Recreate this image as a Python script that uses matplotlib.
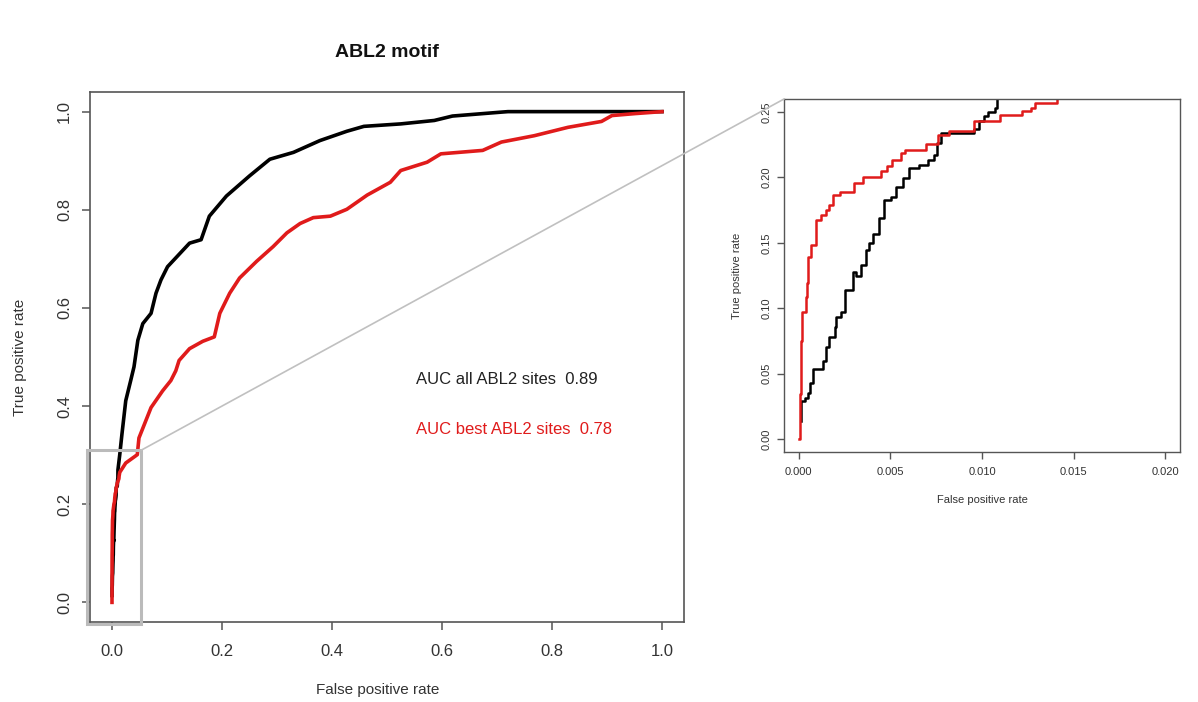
import matplotlib as mpl
mpl.use('Agg')
import matplotlib.pyplot as plt
from matplotlib.patches import Rectangle, ConnectionPatch

plt.rcParams['font.family'] = ['Liberation Sans', 'DejaVu Sans']

# ROC curve: all ABL2 sites (black)
black_fpr = [0.0001, 0.0001, 0.00033, 0.0005, 0.0006, 0.00078, 0.00132, 0.0015,
             0.00168, 0.00196, 0.00205, 0.00232, 0.0025, 0.00295, 0.00314, 0.0034,
             0.00368, 0.00385, 0.00404, 0.0044, 0.00467, 0.00504, 0.0053, 0.00567,
             0.00603, 0.00658, 0.00703, 0.00739, 0.00757, 0.00776, 0.00957, 0.00984,
             0.0101, 0.0103, 0.0107, 0.0108,
             0.014, 0.018, 0.025, 0.034, 0.040, 0.047, 0.056, 0.071, 0.080, 0.089,
             0.101, 0.116, 0.141, 0.162, 0.177, 0.208, 0.250, 0.287, 0.330, 0.378,
             0.427, 0.458, 0.525, 0.586, 0.619, 0.708, 0.72, 1.0]
black_tpr = [0.014, 0.029, 0.0315, 0.0354, 0.043, 0.0534, 0.0598, 0.070,
             0.0777, 0.0854, 0.093, 0.097, 0.1136, 0.1277, 0.125, 0.1328,
             0.1444, 0.1495, 0.157, 0.1688, 0.183, 0.1854, 0.193, 0.1995,
             0.207, 0.2098, 0.2136, 0.2175, 0.2265, 0.234, 0.2367, 0.243,
             0.247, 0.250, 0.2534, 0.27,
             0.300, 0.342, 0.411, 0.452, 0.480, 0.534, 0.568, 0.589, 0.630, 0.657,
             0.684, 0.702, 0.732, 0.739, 0.787, 0.828, 0.869, 0.903, 0.917, 0.941,
             0.960, 0.970, 0.975, 0.982, 0.991, 0.999, 1.0, 1.0]

# ROC curve: best ABL2 sites (red)
red_fpr = [0.0, 0.00005, 0.0001, 0.0002, 0.00038, 0.00045, 0.0005, 0.00069,
           0.00096, 0.00123, 0.0015, 0.00168, 0.00186, 0.00223, 0.00304, 0.0035,
           0.0045, 0.0048, 0.0051, 0.0056, 0.0058, 0.00694, 0.0076, 0.0082,
           0.00957, 0.0110, 0.0122, 0.01265, 0.0129, 0.0141,
           0.025, 0.046, 0.049, 0.071, 0.092, 0.107, 0.116, 0.122, 0.141, 0.165,
           0.186, 0.196, 0.214, 0.232, 0.263, 0.293, 0.318, 0.342, 0.366, 0.397,
           0.427, 0.464, 0.506, 0.525, 0.573, 0.598, 0.674, 0.708, 0.768, 0.829,
           0.890, 0.909, 0.951, 1.0]
red_tpr = [0.0, 0.034, 0.075, 0.097, 0.1085, 0.119, 0.139, 0.148,
           0.1675, 0.171, 0.175, 0.179, 0.1867, 0.189, 0.1957, 0.2003,
           0.2046, 0.209, 0.2136, 0.2188, 0.2213, 0.2252, 0.2328, 0.2354,
           0.243, 0.2475, 0.2508, 0.2534, 0.2572, 0.265,
           0.284, 0.301, 0.335, 0.397, 0.431, 0.452, 0.472, 0.493, 0.517, 0.532,
           0.541, 0.589, 0.630, 0.661, 0.695, 0.725, 0.753, 0.772, 0.784, 0.787,
           0.801, 0.830, 0.856, 0.880, 0.897, 0.914, 0.921, 0.938, 0.951, 0.968,
           0.980, 0.992, 0.996, 1.0]

auc_all = 0.89
auc_best = 0.78
main_ticks = [0.0, 0.2, 0.4, 0.6, 0.8, 1.0]
inset_xticks = [0.0, 0.005, 0.010, 0.015, 0.020]
inset_yticks = [0.0, 0.05, 0.10, 0.15, 0.20, 0.25]

RED = '#e01b1b'
AXC = '#555555'
TXT = '#333333'

fig = plt.figure(figsize=(11.98, 7.02), dpi=100)

# main panel
ax = fig.add_axes([90 / 1198, 1 - 622 / 702, 594 / 1198, 530 / 702])
ax.plot(black_fpr, black_tpr, color='black', lw=2.6)
ax.plot(red_fpr, red_tpr, color=RED, lw=2.6)
ax.set_xlim(-0.04, 1.04)
ax.set_ylim(-0.04, 1.04)
ax.set_xticks(main_ticks)
ax.set_yticks(main_ticks)
ax.set_xticklabels(['%.1f' % t for t in main_ticks])
ax.set_yticklabels(['%.1f' % t for t in main_ticks], rotation=90, va='center')
ax.tick_params(axis='x', direction='out', length=6, width=1.1, color=AXC,
               labelsize=12, labelcolor=TXT, pad=10)
ax.tick_params(axis='y', direction='out', length=6, width=1.1, color=AXC,
               labelsize=12, labelcolor=TXT, pad=7)
for s in ax.spines.values():
    s.set_color(AXC)
    s.set_linewidth(1.2)
ax.text(0.4845, -0.128, 'False positive rate', transform=ax.transAxes,
        ha='center', va='center', fontsize=11, color=TXT)
ax.text(-0.118, 0.5, 'True positive rate', transform=ax.transAxes,
        ha='center', va='center', rotation=90, fontsize=11, color=TXT)
ax.text(0.5, 1.075, 'ABL2 motif', transform=ax.transAxes, ha='center',
        va='center', fontsize=14, fontweight='bold', color='#111111')
ax.text(0.552, 0.455, 'AUC all ABL2 sites  %.2f' % auc_all, fontsize=12,
        color='#222222', va='center', ha='left')
ax.text(0.552, 0.352, 'AUC best ABL2 sites  %.2f' % auc_best, fontsize=12,
        color=RED, va='center', ha='left')

# zoom box
bx0, bx1, by0, by1 = -0.045, 0.053, -0.045, 0.31
ax.add_patch(Rectangle((bx0, by0), bx1 - bx0, by1 - by0, fill=False,
                       edgecolor='#bbbbbb', lw=2.2, clip_on=False, zorder=5))

# inset panel
axi = fig.add_axes([784 / 1198, 1 - 452 / 702, 396 / 1198, 353 / 702])
axi.plot(black_fpr, black_tpr, color='black', lw=1.8, drawstyle='steps-post')
axi.plot(red_fpr, red_tpr, color=RED, lw=1.8, drawstyle='steps-post')
axi.set_xlim(-0.0008, 0.0208)
axi.set_ylim(-0.01, 0.26)
axi.set_xticks(inset_xticks)
axi.set_yticks(inset_yticks)
axi.set_xticklabels(['%.3f' % t for t in inset_xticks])
axi.set_yticklabels(['%.2f' % t for t in inset_yticks], rotation=90, va='center')
axi.tick_params(axis='x', direction='out', length=5, width=1, color=AXC,
                labelsize=8, labelcolor=TXT, pad=6)
axi.tick_params(axis='y', direction='out', length=5, width=1, color=AXC,
                labelsize=8, labelcolor=TXT, pad=4)
for s in axi.spines.values():
    s.set_color(AXC)
    s.set_linewidth(1.0)
axi.text(0.5, -0.137, 'False positive rate', transform=axi.transAxes,
         ha='center', va='center', fontsize=8, color=TXT)
axi.text(-0.118, 0.5, 'True positive rate', transform=axi.transAxes,
         ha='center', va='center', rotation=90, fontsize=8, color=TXT)

# connector lines from box to inset
for (xa, ya), (xb, yb) in [((bx1, by1), (0, 1)), ((bx1, by0), (0, 0))]:
    con = ConnectionPatch(xyA=(xa, ya), coordsA='data', axesA=ax,
                          xyB=(xb, yb), coordsB='axes fraction', axesB=axi,
                          color='#c0c0c0', lw=1.2)
    fig.add_artist(con)

plt.savefig('out.png', dpi=100)
